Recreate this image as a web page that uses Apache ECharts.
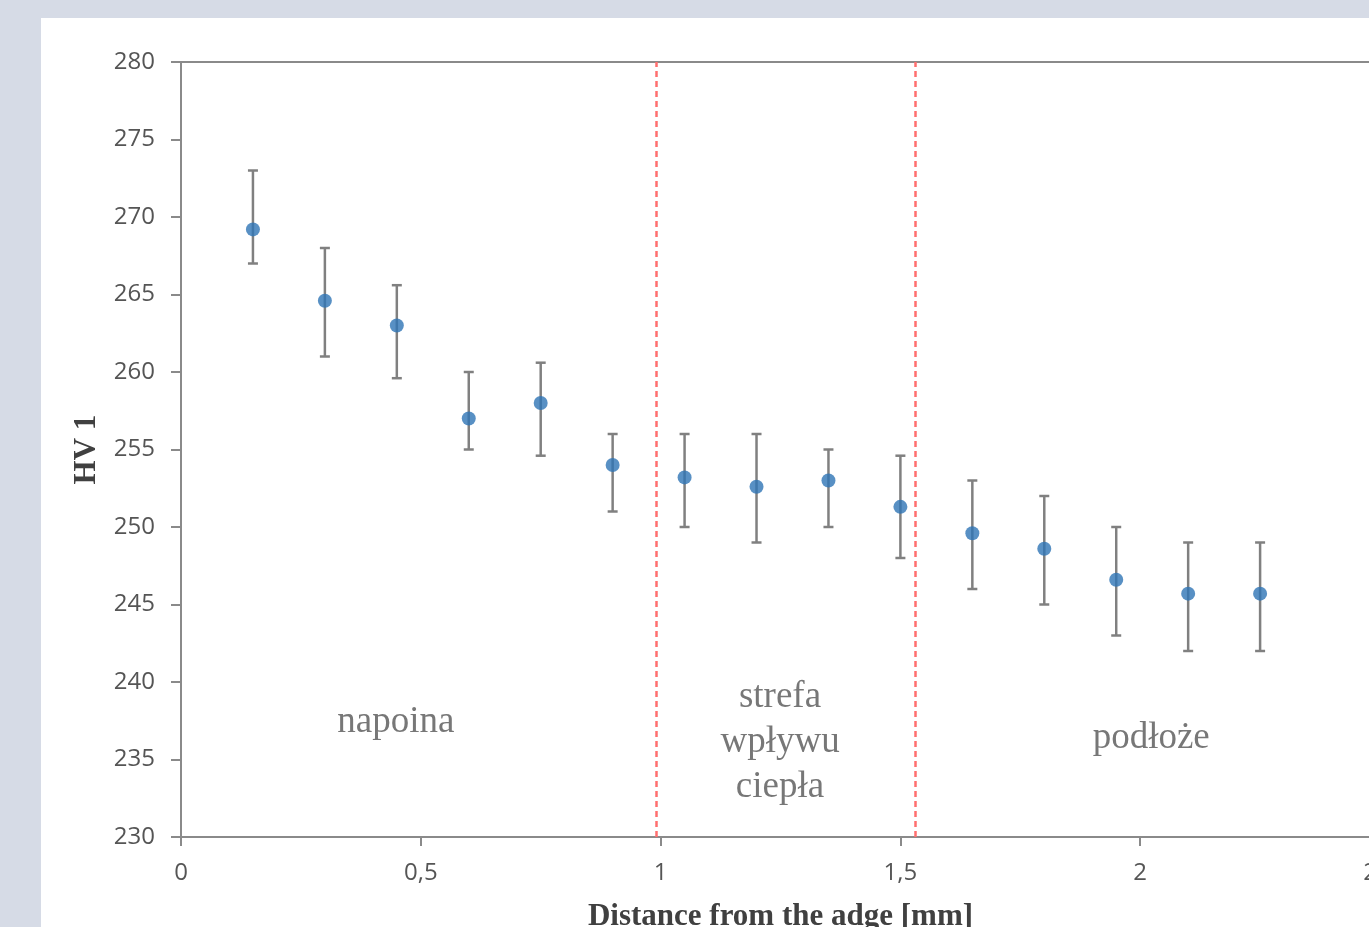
<!DOCTYPE html>
<html>
<head>
    <meta http-equiv="Content-Type" content="text/html; charset=utf-8">
    <title>HV 1</title>
    <style>
        html, body { margin: 0; padding: 0; background: #d6dbe6; overflow: hidden; }
        .slide_panel { position: absolute; left: 41px; top: 18px; right: 0; bottom: 0; background: #ffffff; }
        #echarts_main { position: absolute; left: 0; top: 0; width: 1369px; height: 927px; }
    </style>
</head>
<body>
    <div class="slide_panel"></div>
    <div id="echarts_main"></div>

    <script src="https://cdn.jsdelivr.net/npm/echarts@6/dist/echarts.min.js"></script>
    <script>
        // dane pomiarowe
        var xValues = [0.15, 0.3, 0.45, 0.6, 0.75, 0.9, 1.05, 1.2, 1.35, 1.5, 1.65, 1.8, 1.95, 2.1, 2.25];
        var hvMean = [269.2, 264.6, 263, 257, 258, 254, 253.2, 252.6, 253, 251.3, 249.6, 248.6, 246.6, 245.7, 245.7];
        var hvHigh = [273, 268, 265.6, 260, 260.6, 256, 256, 256, 255, 254.6, 253, 252, 250, 249, 249];
        var hvLow = [267, 261, 259.6, 255, 254.6, 251, 250, 249, 250, 248, 246, 245, 243, 242, 242];

        // granice stref i opisy
        var zoneBounds = [0.986, 1.527];
        var zoneLabels = ['napoina', 'strefa\nwpływu\nciepła', 'podłoże'];
        var zoneLabelX = [0.448, 1.249, 2.023];
        var zoneLabelY = [237.4, 236.1, 236.4];

        var myChart = echarts.init(document.getElementById('echarts_main'));

        var pointData = [];
        var errData = [];
        for (var i = 0; i < xValues.length; i++) {
            pointData.push([xValues[i], hvMean[i]]);
            errData.push([xValues[i], hvLow[i], hvHigh[i]]);
        }
        var labelData = [];
        for (var j = 0; j < zoneLabels.length; j++) {
            labelData.push({ value: [zoneLabelX[j], zoneLabelY[j]], name: zoneLabels[j] });
        }

        var axisGray = '#8a8a8a';
        var tickFont = { color: '#555555', fontSize: 24, fontFamily: 'Open Sans' };
        var nameFont = { fontFamily: 'Liberation Serif', fontWeight: 'bold', fontSize: 31, color: '#404040' };

        var option = {
            animation: false,
            grid: { left: 181, top: 62, width: 1199, height: 775, outerBoundsMode: 'none', containLabel: false },
            xAxis: [{
                type: 'value',
                min: 0, max: 2.5, interval: 0.5,
                name: 'Distance from the adge [mm]',
                nameLocation: 'middle',
                nameGap: 64,
                nameTextStyle: nameFont,
                axisLine: { show: true, onZero: false, lineStyle: { color: axisGray, width: 2 } },
                axisTick: { show: true, length: 9, lineStyle: { color: axisGray, width: 2 } },
                axisLabel: Object.assign({ margin: 24, formatter: function (v) { return String(v).replace('.', ','); } }, tickFont),
                splitLine: { show: false }
            }, {
                type: 'value',
                position: 'top',
                min: 0, max: 2.5,
                axisLine: { show: true, onZero: false, lineStyle: { color: axisGray, width: 2 } },
                axisTick: { show: false },
                axisLabel: { show: false },
                splitLine: { show: false }
            }],
            yAxis: {
                type: 'value',
                min: 230, max: 280, interval: 5,
                name: 'HV 1',
                nameLocation: 'middle',
                nameGap: 77,
                nameTextStyle: nameFont,
                axisLine: { show: true, onZero: false, lineStyle: { color: axisGray, width: 2 } },
                axisTick: { show: true, inside: false, length: 10, lineStyle: { color: axisGray, width: 2 } },
                axisLabel: Object.assign({ margin: 26 }, tickFont),
                splitLine: { show: false }
            },
            series: [{
                name: 'err',
                type: 'custom',
                data: errData,
                z: 2,
                renderItem: function (params, api) {
                    var x = api.value(0);
                    var lo = api.coord([x, api.value(1)]);
                    var hi = api.coord([x, api.value(2)]);
                    var cap = 5;
                    var style = { stroke: '#808080', lineWidth: 2.5 };
                    return {
                        type: 'group',
                        children: [
                            { type: 'line', shape: { x1: hi[0], y1: hi[1], x2: lo[0], y2: lo[1] }, style: style },
                            { type: 'line', shape: { x1: hi[0] - cap, y1: hi[1], x2: hi[0] + cap, y2: hi[1] }, style: style },
                            { type: 'line', shape: { x1: lo[0] - cap, y1: lo[1], x2: lo[0] + cap, y2: lo[1] }, style: style }
                        ]
                    };
                }
            }, {
                name: 'HV 1',
                type: 'scatter',
                data: pointData,
                z: 3,
                symbol: 'circle',
                symbolSize: 14,
                itemStyle: { color: '#2e74b5' },
                markLine: {
                    silent: true,
                    symbol: ['none', 'none'],
                    label: { show: false },
                    lineStyle: { color: '#ff6f6f', type: [6, 4], width: 2.5 },
                    data: zoneBounds.map(function (b) { return { xAxis: b }; })
                }
            }, {
                name: 'strefy',
                type: 'scatter',
                data: labelData,
                symbolSize: 0,
                silent: true,
                label: {
                    show: true,
                    position: 'inside',
                    formatter: '{b}',
                    fontFamily: 'Liberation Serif',
                    fontSize: 37,
                    lineHeight: 45,
                    color: '#555555',
                    align: 'center'
                }
            }]
        };

        myChart.setOption(option);
    </script>
</body>
</html>
